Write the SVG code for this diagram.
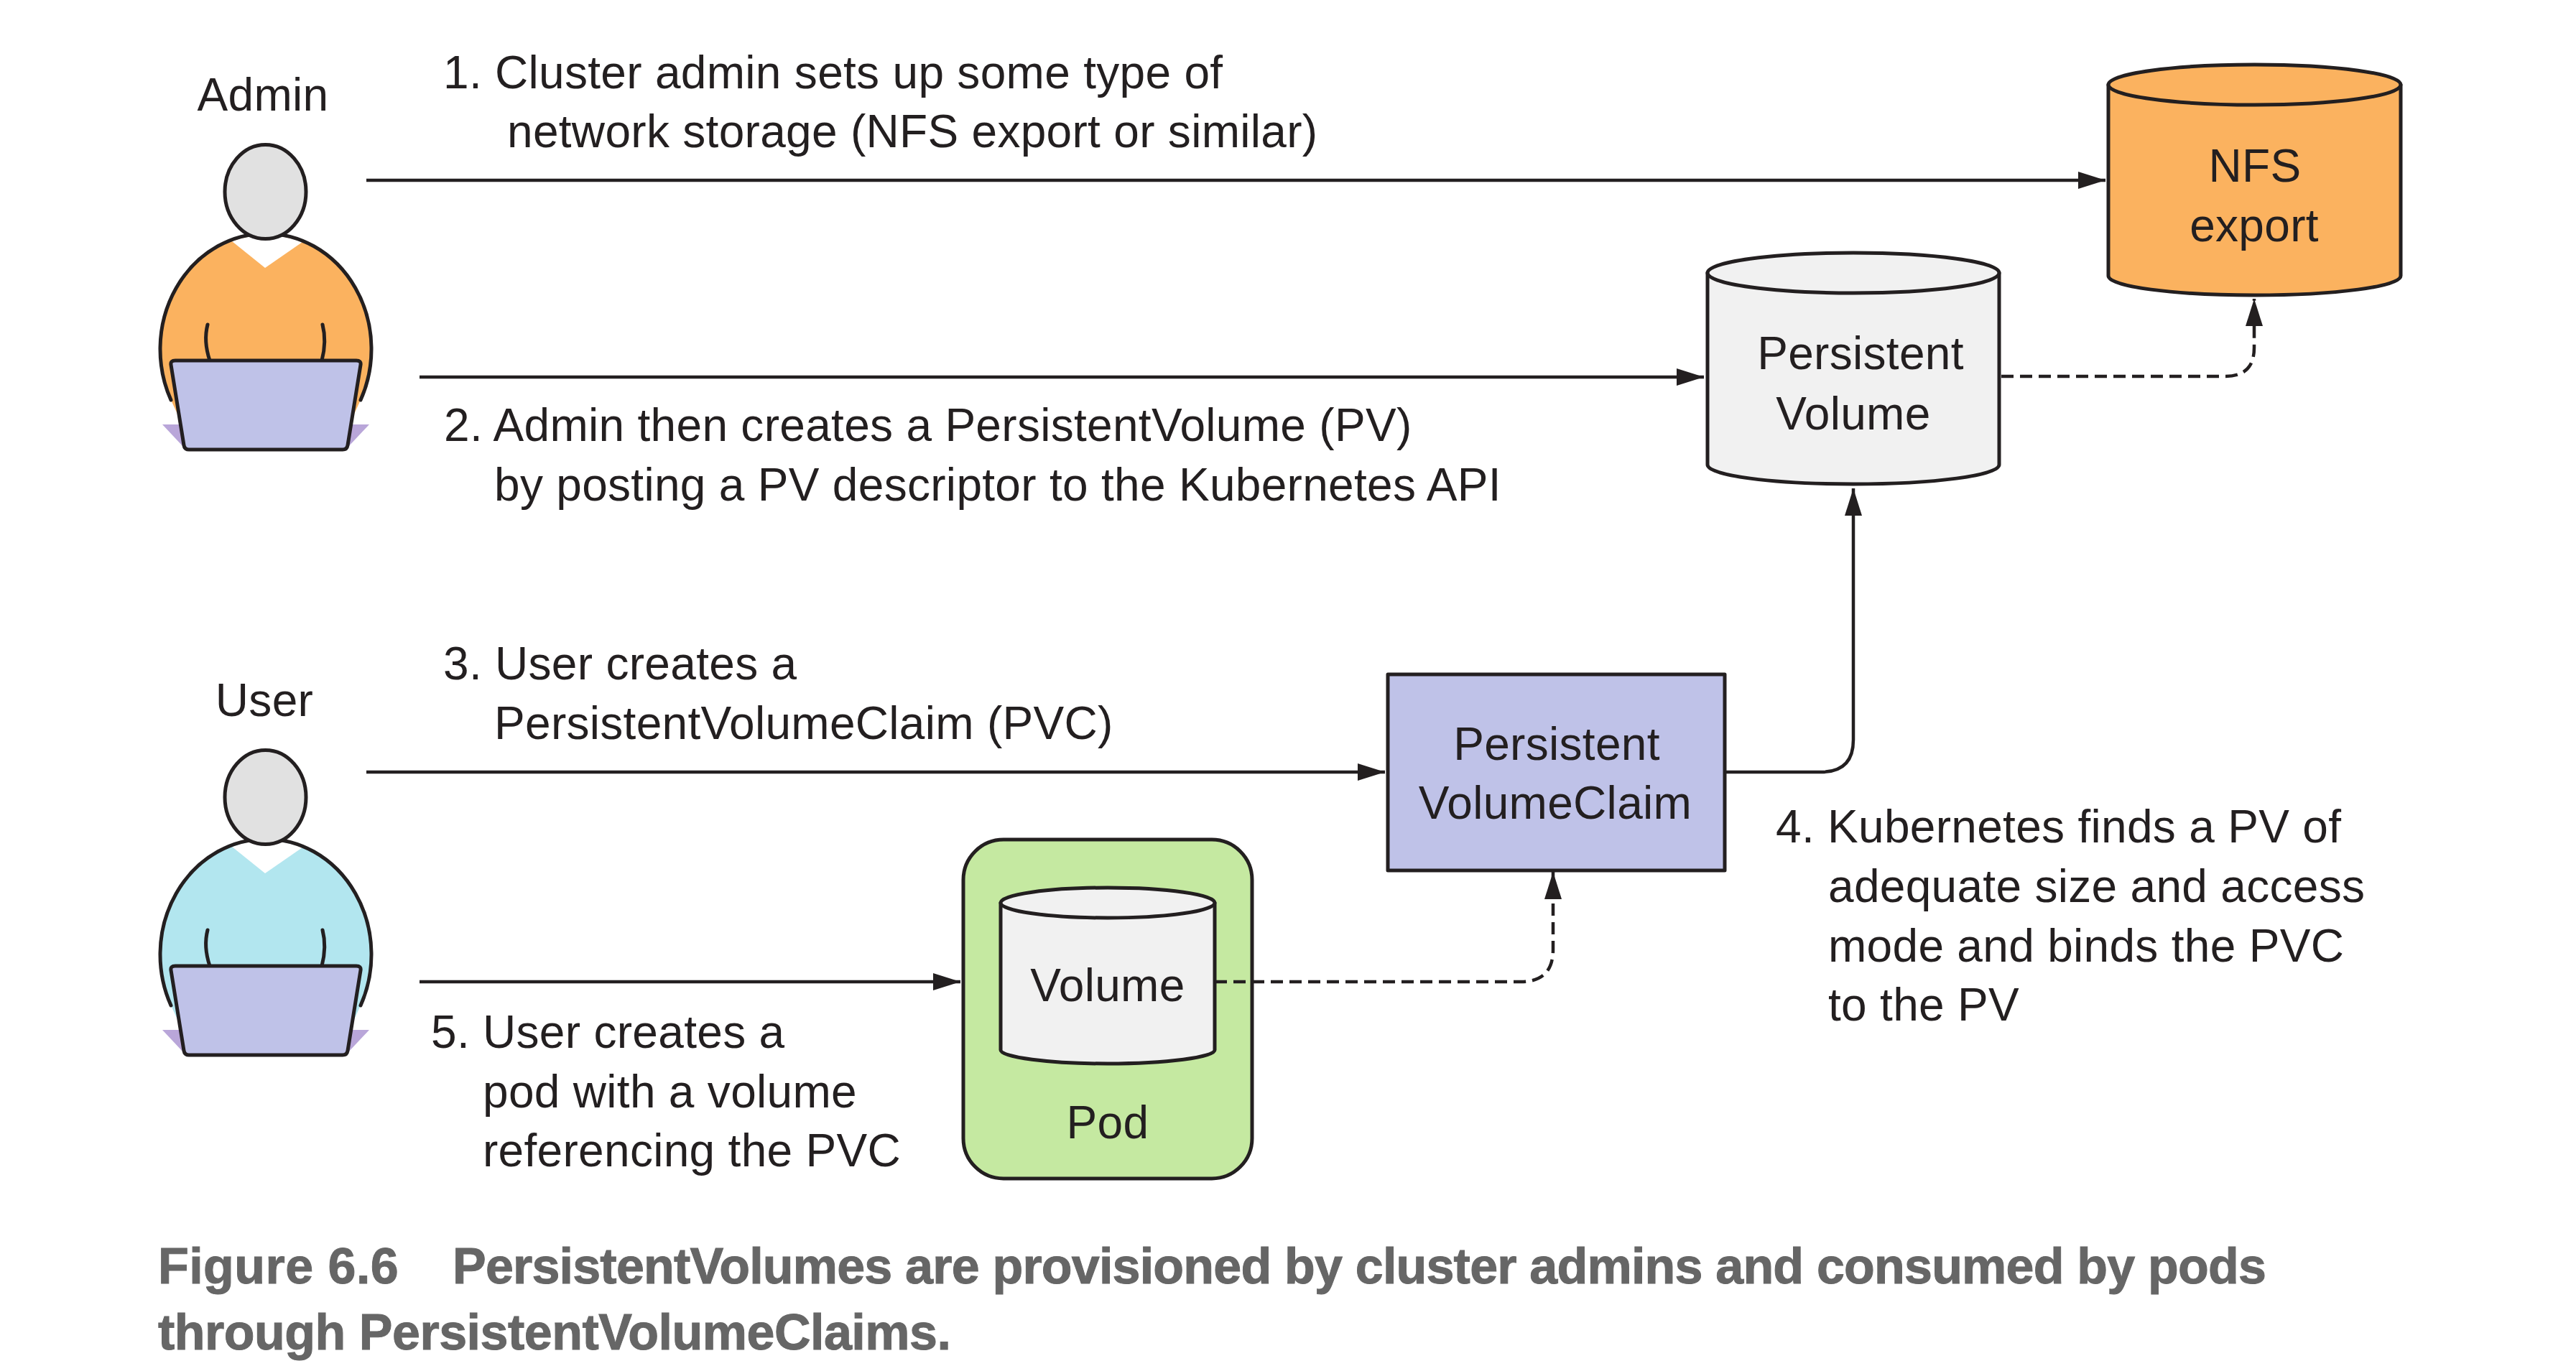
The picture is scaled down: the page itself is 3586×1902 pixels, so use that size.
<svg xmlns="http://www.w3.org/2000/svg" width="3586" height="1902" viewBox="0 0 3586 1902">
<style>
text{font-family:"Liberation Sans",Arial,sans-serif;font-size:64px;fill:#231f20;letter-spacing:.3px}
.m{text-anchor:middle}
.cap{font-weight:700;font-size:70px;fill:#666666;stroke:#666666;stroke-width:1}
.s{stroke:#231f20;stroke-width:5;stroke-linecap:round;stroke-linejoin:round}
.c{fill:none;stroke:#231f20;stroke-width:4.5}
.d{stroke-dasharray:17 9}
.b{stroke:#231f20;stroke-width:5;stroke-linejoin:round}
.grey{fill:#f1f1f1}
.orange{fill:#fbb25f}
.lilac{fill:#bfc2e8}
.sh{fill:#b9a6d9}
</style>
<defs>
<marker id="a" markerUnits="userSpaceOnUse" markerWidth="40" markerHeight="24" refX="38" refY="12" orient="auto"><path d="M0 0L38 12L0 24Z" fill="#231f20"/></marker>
</defs>
<rect width="3586" height="1902" fill="#fff"/>
<g id="connectors">
<path class="c" d="M510 251H2931" marker-end="url(#a)"/>
<path class="c" d="M584 525H2372" marker-end="url(#a)"/>
<path class="c" d="M510 1075H1928" marker-end="url(#a)"/>
<path class="c" d="M584 1367H1337" marker-end="url(#a)"/>
<path class="c" d="M2401 1075H2535Q2580 1075 2580 1030V680" marker-end="url(#a)"/>
</g>
<g id="admin">
<text class="m" x="366" y="154">Admin</text>
<path class="orange" d="M238 557A147 161 0 1 1 502 557L482 600H258Z"/>
<path fill="#fff" d="M323 336L369 373L421 337Q370 318 323 336Z"/>
<path class="s" fill="none" d="M238 557A147 161 0 1 1 502 557"/>
<path class="s" fill="none" d="M289 452Q283 475 292 502M449 452Q455 475 448 502"/>
<path class="sh" d="M226 591H514L482 625H258Z"/>
<path class="s lilac" d="M244 502H496Q503 502 502 508L484 620Q483 626 477 626H263Q257 626 256 620L238 508Q237 502 244 502Z"/>
<ellipse class="s" cx="369.500" cy="267" rx="56.500" ry="65.500" fill="#e1e1e1"/>
</g>
<g id="user" transform="translate(0 843)">
<text class="m" x="368" y="154">User</text>
<path fill="#b2e6ef" d="M238 557A147 161 0 1 1 502 557L482 600H258Z"/>
<path fill="#fff" d="M323 336L369 373L421 337Q370 318 323 336Z"/>
<path class="s" fill="none" d="M238 557A147 161 0 1 1 502 557"/>
<path class="s" fill="none" d="M289 452Q283 475 292 502M449 452Q455 475 448 502"/>
<path class="sh" d="M226 591H514L482 625H258Z"/>
<path class="s lilac" d="M244 502H496Q503 502 502 508L484 620Q483 626 477 626H263Q257 626 256 620L238 508Q237 502 244 502Z"/>
<ellipse class="s" cx="369.500" cy="267" rx="56.500" ry="65.500" fill="#e1e1e1"/>
</g>
<g id="nfs-export">
<path class="b orange" d="M2935 118V384C2935 399 3026 411 3138.5 411S3342 399 3342 384V118Z"/>
<ellipse class="b orange" cx="3138.5" cy="118" rx="203.5" ry="28"/>
<text class="m" x="3139" y="253">NFS</text>
<text class="m" x="3138" y="336">export</text>
</g>
<g id="persistent-volume">
<path class="b grey" d="M2377 380V647C2377 662 2468 674 2580 674S2783 662 2783 647V380Z"/>
<ellipse class="b grey" cx="2580" cy="380" rx="203" ry="28"/>
<text class="m" x="2590" y="514">Persistent</text>
<text class="m" x="2580" y="598">Volume</text>
</g>
<g id="pvc">
<rect class="b lilac" x="1932" y="939" width="469" height="273"/>
<text class="m" x="2167" y="1058">Persistent</text>
<text class="m" x="2165" y="1140">VolumeClaim</text>
</g>
<g id="pod">
<rect class="b" fill="#c5e9a1" x="1341" y="1169" width="402" height="472" rx="56"/>
<path class="b grey" d="M1393 1257V1462C1393 1472 1460 1481 1542 1481S1691 1472 1691 1462V1257Z"/>
<ellipse class="b grey" cx="1542" cy="1257" rx="149" ry="21"/>
<text class="m" x="1542" y="1394">Volume</text>
<text class="m" x="1542" y="1585">Pod</text>
</g>
<g id="dashed-connectors">
<path class="c d" d="M2786 524H3098Q3138 524 3138 484V416" marker-end="url(#a)"/>
<path class="c d" d="M1691 1367H2117Q2162 1367 2162 1322V1214" marker-end="url(#a)"/>
</g>
<g id="labels">
<text x="617" y="123">1. Cluster admin sets up some type of</text>
<text x="706" y="205">network storage (NFS export or similar)</text>
<text x="618" y="614">2. Admin then creates a PersistentVolume (PV)</text>
<text x="688" y="697">by posting a PV descriptor to the Kubernetes API</text>
<text x="617" y="946">3. User creates a</text>
<text x="688" y="1029">PersistentVolumeClaim (PVC)</text>
<text x="600" y="1459">5. User creates a</text>
<text x="672" y="1542">pod with a volume</text>
<text x="672" y="1624">referencing the PVC</text>
<text x="2472" y="1173">4. Kubernetes finds a PV of</text>
<text x="2545" y="1256">adequate size and access</text>
<text x="2545" y="1339">mode and binds the PVC</text>
<text x="2545" y="1421">to the PV</text>
</g>
<g id="caption">
<text class="cap" x="220" y="1787"><tspan style="letter-spacing:.45px">Figure 6.6</tspan><tspan x="630" style="letter-spacing:-.8px">PersistentVolumes are provisioned by cluster admins and consumed by pods</tspan></text>
<text class="cap" x="220" y="1879" style="letter-spacing:-.5px">through PersistentVolumeClaims.</text>
</g>
</svg>
